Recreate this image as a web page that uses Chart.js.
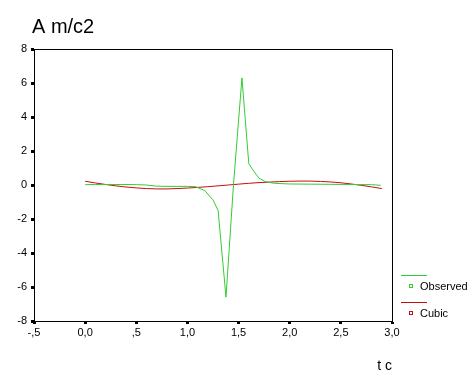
<!DOCTYPE html>
<html>
<head>
<meta charset="utf-8">
<script src="https://cdn.jsdelivr.net/npm/chart.js@4.4.1/dist/chart.umd.min.js"></script>
<style>
html,body{margin:0;padding:0;background:#fff;}
#wrap{width:476px;height:381px;position:relative;}
</style>
</head>
<body>
<div id="wrap"><canvas id="c" width="476" height="381"></canvas></div>
<script>
// Observed series (t, A)
const obsT = [0, 0.1, 0.2, 0.3, 0.4, 0.5, 0.6, 0.7, 0.8, 0.9, 1.0, 1.08, 1.17, 1.25, 1.3, 1.377, 1.45, 1.533, 1.6, 1.65, 1.7, 1.76, 1.85, 2.0, 2.2, 2.4, 2.6, 2.8, 2.89];
const obsA = [0.02, 0.03, 0.03, 0.03, 0.03, 0.02, 0.0, -0.07, -0.08, -0.08, -0.08, -0.1, -0.33, -0.88, -1.5, -6.6, 0.0, 6.3, 1.25, 0.8, 0.4, 0.2, 0.1, 0.06, 0.05, 0.04, 0.03, 0.02, -0.02];
// Cubic fit (t, A)
const cubT = [0, 0.1, 0.2, 0.3, 0.4, 0.5, 0.6, 0.7, 0.8, 0.9, 1.0, 1.1, 1.2, 1.3, 1.4, 1.5, 1.6, 1.7, 1.8, 1.9, 2.0, 2.1, 2.2, 2.3, 2.4, 2.5, 2.6, 2.7, 2.8, 2.9];
const cubA = [0.22, 0.12, 0.03, -0.05, -0.12, -0.17, -0.21, -0.23, -0.23, -0.21, -0.18, -0.14, -0.1, -0.05, 0.0, 0.05, 0.1, 0.14, 0.17, 0.2, 0.22, 0.23, 0.23, 0.21, 0.18, 0.13, 0.06, -0.02, -0.11, -0.21];
const xTicks = [-0.5, 0, 0.5, 1.0, 1.5, 2.0, 2.5, 3.0];
const yTicks = [-8, -6, -4, -2, 0, 2, 4, 6, 8];
const seriesNames = ['Observed', 'Cubic'];
const titleText = 'A m/c2';
const xTitleText = 't c';

const GREEN = '#33cc33';
const RED = '#c40e0e';
const FONT = 'Arial, "Liberation Sans", sans-serif';

function fmtX(v){
  if (Math.abs(v) < 1e-9) return '0,0';
  let s = Math.abs(v).toFixed(1).replace('.', ',');
  if (Math.abs(v) < 1) s = s.replace(/^0/, '');
  return (v < 0 ? '-' : '') + s;
}

const decor = {
  id: 'decor',
  afterDraw(chart){
    const ctx = chart.ctx;
    const a = chart.chartArea;
    ctx.save();
    ctx.strokeStyle = '#000';
    ctx.lineWidth = 1;
    ctx.beginPath();
    ctx.moveTo(Math.round(a.left)+0.5, Math.round(a.top)+0.5);
    ctx.lineTo(Math.round(a.right)+0.5, Math.round(a.top)+0.5);
    ctx.lineTo(Math.round(a.right)+0.5, Math.round(a.bottom)+0.5);
    ctx.stroke();
    // title
    ctx.fillStyle = '#000';
    ctx.font = '20px ' + FONT;
    ctx.textBaseline = 'alphabetic';
    ctx.textAlign = 'left';
    ctx.fillText(titleText, 32, 33);
    // x title
    ctx.font = '14px ' + FONT;
    ctx.textAlign = 'right';
    ctx.fillText(xTitleText, 392, 370);
    // legend
    ctx.font = '11px ' + FONT;
    ctx.textAlign = 'left';
    ctx.textBaseline = 'middle';
    const cols = [GREEN, RED];
    const ys = [275, 302];
    for (let i = 0; i < 2; i++) {
      ctx.strokeStyle = cols[i];
      ctx.beginPath();
      ctx.moveTo(401, ys[i]+0.5);
      ctx.lineTo(427, ys[i]+0.5);
      ctx.stroke();
      ctx.strokeRect(409.5, ys[i]+9.5, 3, 3);
      ctx.fillStyle = '#000';
      ctx.fillText(seriesNames[i], 420, ys[i]+12);
    }
    ctx.restore();
  }
};

new Chart(document.getElementById('c'), {
  type: 'line',
  data: {
    datasets: [
      { label: seriesNames[0], data: obsT.map((t,i)=>({x:t, y:obsA[i]})), borderColor: GREEN, borderWidth: 1, pointRadius: 0, tension: 0, fill: false },
      { label: seriesNames[1], data: cubT.map((t,i)=>({x:t, y:cubA[i]})), borderColor: RED, borderWidth: 1, pointRadius: 0, tension: 0, fill: false }
    ]
  },
  options: {
    responsive: false,
    animation: false,
    devicePixelRatio: 1,
    layout: { padding: { left: 0, right: 84, top: 49, bottom: 0 } },
    plugins: { legend: { display: false }, tooltip: { enabled: false }, title: { display: false } },
    scales: {
      x: {
        type: 'linear', min: -0.5, max: 3.0,
        afterBuildTicks(s){ s.ticks = xTicks.map(v=>({value:v})); },
        afterFit(s){ s.height = 60; },
        grid: { drawOnChartArea: false, drawTicks: true, tickLength: 3, tickWidth: 3, color: '#000' },
        border: { display: true, color: '#000', width: 1 },
        ticks: { color: '#000', font: { family: FONT, size: 11 }, padding: 2, maxRotation: 0, autoSkip: false, callback: v => fmtX(v) }
      },
      y: {
        type: 'linear', min: -8, max: 8,
        afterBuildTicks(s){ s.ticks = yTicks.map(v=>({value:v})); },
        afterFit(s){ s.width = 34; },
        grid: { drawOnChartArea: false, drawTicks: true, tickLength: 3, tickWidth: 3, color: '#000' },
        border: { display: true, color: '#000', width: 1 },
        ticks: { color: '#000', font: { family: FONT, size: 11 }, padding: 4, autoSkip: false, callback: v => String(v) }
      }
    }
  },
  plugins: [decor]
});
</script>
</body>
</html>
